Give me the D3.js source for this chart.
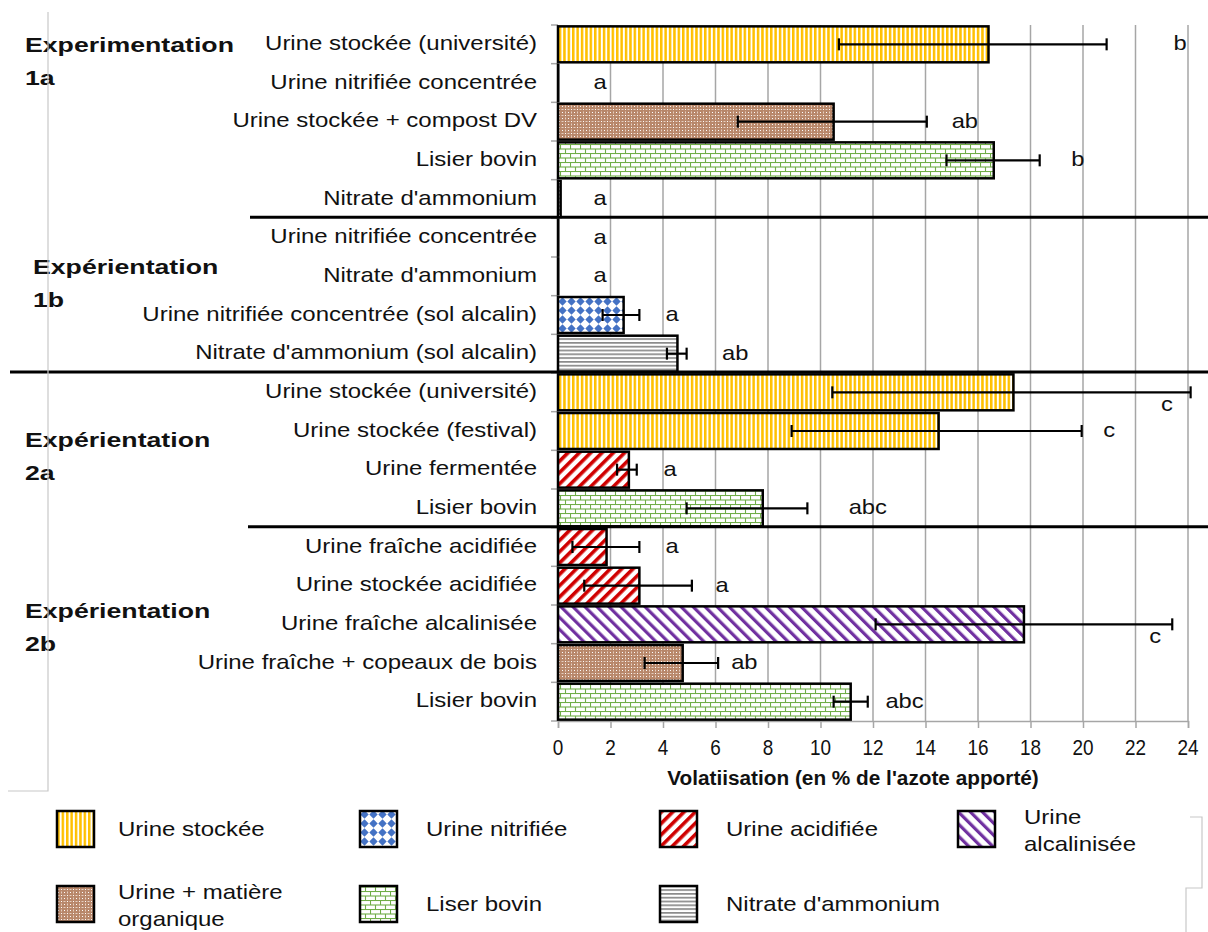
<!DOCTYPE html>
<html><head><meta charset="utf-8">
<script src="https://cdn.jsdelivr.net/npm/d3@7/dist/d3.min.js"></script>
<style>body{margin:0;background:#fff}svg{display:block}text{font-family:"Liberation Sans",Arial,sans-serif;fill:#111}</style>
</head><body><svg id="c" width="1208" height="932"></svg>
<script>
const categories = ["Urine stockée (université)","Urine nitrifiée concentrée","Urine stockée + compost DV","Lisier bovin","Nitrate d'ammonium",
"Urine nitrifiée concentrée","Nitrate d'ammonium","Urine nitrifiée concentrée (sol alcalin)","Nitrate d'ammonium (sol alcalin)",
"Urine stockée (université)","Urine stockée (festival)","Urine fermentée","Lisier bovin",
"Urine fraîche acidifiée","Urine stockée acidifiée","Urine fraîche alcalinisée","Urine fraîche + copeaux de bois","Lisier bovin"];
const types = ["stored","nitrified","organic","slurry","nitrate","nitrified","nitrate","nitrified","nitrate","stored","stored","acidified","slurry","acidified","acidified","alkalinized","organic","slurry"];
const values = [16.4,0,10.5,16.6,0.1,0,0,2.5,4.55,17.35,14.5,2.7,7.8,1.85,3.1,17.75,4.75,11.15];
const errLow = [10.7,null,6.85,14.8,null,null,null,1.7,4.15,10.45,8.9,2.25,4.9,0.55,1.0,12.1,3.3,10.5];
const errHigh = [20.9,null,14.05,18.35,null,null,null,3.1,4.9,24.1,19.95,3.0,9.5,3.1,5.1,23.4,6.1,11.8];
const letters = ["b","a","ab","b","a","a","a","a","ab","c","c","a","abc","a","a","c","ab","abc"];
const letterAt = [23.7,1.6,15.5,19.8,1.6,1.6,1.6,4.35,6.75,23.2,21.0,4.27,11.8,4.35,6.25,22.75,7.1,13.2];
const letterBelow = [0,0,0,0,0,0,0,0,0,1,0,0,0,0,0,1,0,0];
const groupTitles = [["Experimentation","1a"],["Expérientation","1b"],["Expérientation","2a"],["Expérientation","2b"]];
const xTicks = [0,2,4,6,8,10,12,14,16,18,20,22,24];
const legendKeys = ["stored","nitrified","acidified","alkalinized","organic","slurry","nitrate"];
const legendLabels = [["Urine stockée"],["Urine nitrifiée"],["Urine acidifiée"],["Urine","alcalinisée"],["Urine + matière","organique"],["Liser bovin"],["Nitrate d'ammonium"]];

const svg = d3.select("#c");
const defs = svg.append("defs");
function pat(id,w,h,tf){const p=defs.append("pattern").attr("id",id).attr("patternUnits","userSpaceOnUse").attr("width",w).attr("height",h);if(tf)p.attr("patternTransform",tf);p.append("rect").attr("width",w).attr("height",h).attr("fill","#fff");return p;}
let p=pat("stored",4.4,10); p.append("rect").attr("width",2.5).attr("height",10).attr("fill","#FFC000");
p=pat("nitrate",10,3.8); p.append("rect").attr("y",0).attr("width",10).attr("height",1.7).attr("fill","#8a8a8a");
p=pat("acidified",8,8,"rotate(45)"); p.append("rect").attr("width",3.6).attr("height",8).attr("fill","#D00000");
p=pat("alkalinized",8.5,8.5,"rotate(-45)"); p.append("rect").attr("width",3.2).attr("height",8.5).attr("fill","#7030A0");
p=pat("nitrified",9,9); p.append("path").attr("d","M4.5,0.3L8.7,4.5L4.5,8.7L0.3,4.5Z").attr("fill","#4472C4");
p=pat("slurry",10,9); p.selectAll("x").data(["M0,0.5H10","M0,5H10","M0.5,0.5V5","M5.5,5V9"]).enter().append("path").attr("d",d=>d).attr("stroke","#70AD47").attr("stroke-width",1.1).attr("fill","none");
p=pat("organic",6,6); p.select("rect").attr("fill","#B8876A");
[[1,1],[4,4]].forEach(([a,b])=>p.append("rect").attr("x",a).attr("y",b).attr("width",1).attr("height",1).attr("fill","#fff"));
p.append("rect").attr("x",3.5).attr("y",1).attr("width",2).attr("height",1).attr("fill","#e6cfc0");
p.append("rect").attr("x",1).attr("y",3.5).attr("width",1).attr("height",2).attr("fill","#e6cfc0");

const x = d3.scaleLinear().domain([0,24]).range([558,1188]);
const y = d3.scaleBand().domain(d3.range(categories.length)).range([25,721]).paddingInner(0.07).paddingOuter(0.035);
const bandTop = i => 25 + i*(696/categories.length);

function stext(parent,str,tx,ty,size,sx,anchor,weight){
 const g=parent.append("g").attr("transform",`translate(${tx},${ty}) scale(${sx},1)`);
 return g.append("text").text(str).attr("font-size",size).attr("text-anchor",anchor||"start").attr("dominant-baseline","central").attr("font-weight",weight||"normal");
}

// gridlines
svg.append("g").selectAll("line").data(xTicks.slice(1)).enter().append("line")
 .attr("x1",d=>x(d)).attr("x2",d=>x(d)).attr("y1",25).attr("y2",721).attr("stroke","#a6a6a6").attr("stroke-width",1.5);

// x axis
const xa = svg.append("g").attr("transform","translate(0,721)").call(d3.axisBottom(x).tickValues(xTicks).tickSize(7).tickFormat(""));
xa.select(".domain").attr("stroke","#a6a6a6").attr("stroke-width",1.5);
xa.selectAll(".tick line").attr("stroke","#a6a6a6").attr("stroke-width",1.5);
xTicks.forEach(t=>stext(svg,String(t),x(t),747,22,0.86,"middle"));

// y axis
svg.append("line").attr("x1",558).attr("x2",558).attr("y1",25).attr("y2",721).attr("stroke","#a6a6a6").attr("stroke-width",1.5);
svg.append("g").selectAll("line").data(d3.range(categories.length+1)).enter().append("line")
 .attr("x1",551).attr("x2",558).attr("y1",d=>bandTop(d)).attr("y2",d=>bandTop(d)).attr("stroke","#a6a6a6").attr("stroke-width",1.5);

// bars
svg.append("g").selectAll("rect").data(values).enter().append("rect")
 .attr("x",x(0)).attr("y",(d,i)=>y(i)).attr("height",y.bandwidth()).attr("width",d=>Math.max(x(d)-x(0),0.3))
 .attr("fill",(d,i)=>`url(#${types[i]})`).attr("stroke","#000").attr("stroke-width",2.5);

// error bars
const eg = svg.append("g").attr("stroke","#000").attr("stroke-width",2.2);
values.forEach((v,i)=>{ if(errLow[i]==null) return; const cy=y(i)+y.bandwidth()/2;
 eg.append("line").attr("x1",x(errLow[i])).attr("x2",x(errHigh[i])).attr("y1",cy).attr("y2",cy);
 [errLow[i],errHigh[i]].forEach(e=>eg.append("line").attr("x1",x(e)).attr("x2",x(e)).attr("y1",cy-6).attr("y2",cy+6));
});

// letters
const lg = svg.append("g");
letters.forEach((l,i)=>stext(lg,l,x(letterAt[i]),y(i)+y.bandwidth()/2+(letterBelow[i]?13:0)-1,21,1.13,"middle"));

// category labels
const cg = svg.append("g");
categories.forEach((c,i)=>stext(cg,c,537,y(i)+y.bandwidth()/2-1,20,1.2,"end"));

// group separators
const sepX = [250,10,248];
[5,9,13].forEach((b,k)=>svg.append("line").attr("x1",sepX[k]).attr("x2",1208).attr("y1",bandTop(b)-1).attr("y2",bandTop(b)-1).attr("stroke","#000").attr("stroke-width",3));

// group titles
const titleX=[25,33,25,25], titleY=[45,267,440,611];
groupTitles.forEach((t,k)=>{ t.forEach((s,j)=>stext(svg,s,titleX[k],titleY[k]+j*33,21,1.27,"start","bold")); });

// axis title
stext(svg,"Volatiisation (en % de l'azote apporté)",853,777,21,0.99,"middle","bold");

// frame fragments
svg.append("path").attr("d","M48,12V791H8").attr("fill","none").attr("stroke","#c8c8c8").attr("stroke-width",1.2);
svg.append("path").attr("d","M1190,817H1202V888H1186V932").attr("fill","none").attr("stroke","#c8c8c8").attr("stroke-width",1.2);

// legend
const colX=[57,360,660,958], rowY=[811,886];
legendKeys.forEach((k,i)=>{ const cx=colX[i%4], ry=rowY[Math.floor(i/4)];
 svg.append("rect").attr("x",cx).attr("y",ry).attr("width",37).attr("height",36).attr("fill",`url(#${k})`).attr("stroke","#000").attr("stroke-width",2.5);
 const lines=legendLabels[i]; const tx=cx+61+(i%4===0?0:5);
 lines.forEach((s,j)=>stext(svg,s,tx,ry+18+(lines.length===1?0:(j===0?-12:15)),20,1.2,"start"));
});
</script></body></html>
